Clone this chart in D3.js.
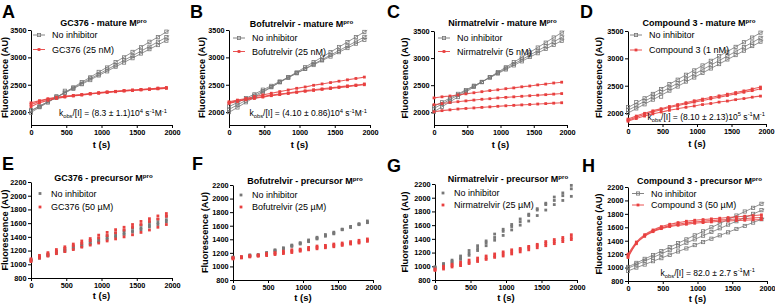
<!DOCTYPE html>
<html><head><meta charset="utf-8">
<script src="https://cdn.jsdelivr.net/npm/d3@7"></script>
<style>body{margin:0;background:#fff}svg{display:block;font-family:"Liberation Sans",Arial,sans-serif}</style>
</head><body><svg id="c" width="775" height="306"></svg>
<script>
// ---------------- DATA ----------------
const T = [0,120,240,360,480,600,720,840,960,1080,1200,1320,1440,1560,1680,1800,1920];
const FIT_T = [0,1960];
const xTicks = [0,500,1000,1500,2000];
const yTicksMature = [2000,2500,3000,3500];
const yTicksPrecursor = [800,1000,1200,1400,1600,1800,2000,2200];

const letters = ["A","B","C","D","E","F","G","H"];
const titles = ["GC376 - mature M","Bofutrelvir - mature M","Nirmatrelvir - mature M","Compound 3 - mature M",
                "GC376 - precursor M","Bofutrelvir - precursor M","Nirmatrelvir - precursor M","Compound 3 - precursor M"];
const inhibitorLabels = ["GC376 (25 nM)","Bofutrelvir (25 nM)","Nirmatrelvir (5 nM)","Compound 3 (1 nM)",
                         "GC376 (50 µM)","Bofutrelvir (25 µM)","Nirmatrelvir (25 µM)","Compound 3 (50 µM)"];
const controlLabel = "No inhibitor";

// Panel A
const A_grey = [
 [1990,2090,2175,2290,2360,2450,2550,2635,2735,2815,2915,3000,3100,3185,3285,3370,3470],
 [2025,2100,2195,2270,2350,2445,2520,2615,2690,2780,2855,2950,3025,3120,3195,3285,3370],
 [2035,2105,2200,2265,2390,2425,2510,2585,2670,2745,2830,2905,2985,3070,3150,3225,3305]];
const A_greyFit = [[1995,3495],[2020,3395],[2030,3335]];
const A_red = [
 [2170,2210,2245,2270,2290,2305,2320,2340,2355,2370,2380,2395,2405,2415,2425,2440,2450],
 [2140,2195,2235,2262,2285,2300,2318,2335,2350,2365,2378,2390,2400,2410,2420,2430,2440],
 [2100,2170,2215,2250,2275,2295,2312,2330,2345,2360,2372,2385,2395,2405,2415,2425,2435]];
// Panel B
const B_grey = [
 [2000,2085,2180,2275,2360,2455,2545,2640,2725,2820,2915,3010,3095,3190,3280,3370,3465],
 [2045,2135,2210,2300,2385,2460,2550,2625,2715,2790,2880,2955,3045,3120,3210,3290,3375],
 [2105,2175,2255,2325,2410,2480,2560,2635,2710,2790,2860,2945,3015,3095,3170,3250,3320]];
const B_greyFit = [[1995,3495],[2050,3400],[2100,3350]];
const B_red = [
 [2190,2220,2250,2285,2315,2345,2375,2405,2435,2460,2490,2515,2540,2565,2590,2615,2640],
 [2170,2205,2235,2260,2285,2310,2330,2350,2370,2390,2410,2425,2445,2460,2480,2495,2515],
 [2160,2195,2225,2250,2275,2300,2320,2340,2360,2380,2395,2415,2430,2450,2465,2485,2500]];
// Panel C
const C_grey = [
 [2010,2100,2195,2280,2375,2470,2555,2650,2740,2830,2925,3010,3105,3195,3285,3380,3470],
 [2065,2150,2235,2320,2395,2480,2560,2645,2725,2810,2890,2975,3055,3135,3220,3300,3385],
 [2110,2185,2260,2340,2410,2490,2560,2640,2715,2790,2865,2940,3020,3090,3170,3245,3320]];
const C_greyFit = [[2010,3500],[2070,3410],[2110,3345]];
const C_red = [
 [2265,2285,2300,2320,2340,2360,2380,2400,2415,2435,2450,2470,2485,2505,2520,2540,2555],
 [2140,2160,2180,2195,2210,2225,2240,2250,2265,2275,2285,2295,2305,2315,2325,2335,2345],
 [2010,2030,2045,2060,2070,2080,2090,2100,2110,2120,2128,2136,2144,2152,2160,2168,2176]];
// Panel D
const D_grey = [
 [2110,2200,2270,2350,2440,2530,2610,2700,2780,2870,2955,3040,3120,3210,3295,3380,3470],
 [2060,2140,2220,2300,2385,2460,2550,2625,2710,2795,2875,2960,3040,3125,3205,3290,3375],
 [2000,2085,2160,2245,2300,2410,2485,2575,2650,2735,2815,2895,2980,3060,3140,3225,3305]];
const D_greyFit = [[2100,3495],[2050,3400],[2000,3330]];
const D_red = [
 [1890,1945,1995,2040,2080,2120,2155,2190,2225,2255,2285,2315,2345,2375,2405,2440,2475],
 [1870,1925,1975,2020,2060,2100,2135,2170,2200,2230,2260,2290,2320,2350,2380,2410,2445],
 [1850,1900,1945,1985,2020,2050,2080,2105,2130,2155,2175,2200,2220,2245,2265,2290,2310]];
// Panel E
const E_grey = [
 [1070,1105,1145,1185,1225,1260,1300,1340,1375,1415,1455,1490,1530,1570,1610,1655,1700],
 [1060,1095,1130,1170,1205,1240,1275,1310,1345,1385,1420,1455,1490,1530,1570,1610,1650],
 [1050,1090,1125,1160,1190,1225,1260,1295,1330,1365,1400,1435,1470,1505,1545,1580,1620]];
const E_red = [
 [1080,1130,1170,1215,1255,1295,1340,1375,1425,1465,1505,1540,1580,1625,1665,1705,1740],
 [1060,1110,1150,1190,1230,1270,1305,1345,1385,1420,1460,1500,1540,1580,1625,1660,1700],
 [1040,1090,1120,1155,1185,1215,1250,1280,1310,1340,1370,1400,1430,1465,1500,1540,1580]];
// Panel F
const F_grey = [
 [1140,1140,1170,1175,1205,1245,1275,1315,1350,1390,1430,1470,1505,1550,1590,1630,1670],
 [1130,1135,1160,1165,1195,1235,1265,1305,1340,1375,1415,1455,1490,1545,1580,1620,1650],
 [1125,1130,1150,1160,1185,1225,1255,1295,1330,1365,1405,1445,1480,1540,1575,1615,1645]];
const F_red = [
 [1130,1145,1160,1170,1190,1205,1225,1245,1255,1280,1300,1310,1330,1345,1365,1385,1405],
 [1120,1135,1150,1160,1175,1190,1205,1225,1240,1260,1280,1290,1310,1325,1345,1360,1385],
 [1110,1125,1140,1150,1160,1175,1190,1205,1225,1245,1260,1275,1290,1310,1330,1345,1370]];
// Panel G
const G_grey = [
 [990,1040,1090,1150,1230,1300,1370,1470,1540,1610,1690,1760,1840,1920,2010,2070,2180],
 [990,1030,1070,1120,1190,1260,1340,1420,1510,1580,1650,1740,1820,1900,1960,2030,2130],
 [980,1010,1050,1100,1160,1230,1300,1380,1450,1530,1600,1660,1740,1820,1900,1960,2020]];
const G_red = [
 [960,1000,1030,1060,1090,1120,1150,1180,1210,1240,1260,1290,1320,1360,1390,1420,1460],
 [950,980,1010,1030,1060,1090,1120,1150,1180,1210,1240,1270,1300,1330,1360,1390,1420],
 [940,960,990,1010,1040,1070,1100,1130,1150,1180,1210,1240,1270,1300,1330,1360,1390]];
// Panel H
const H_grey = [
 [1010,1070,1130,1185,1245,1305,1365,1420,1480,1540,1600,1655,1715,1775,1835,1890,1950],
 [990,1045,1100,1150,1205,1260,1315,1370,1420,1475,1530,1585,1640,1690,1745,1800,1855],
 [950,1000,1045,1095,1140,1190,1240,1285,1335,1380,1430,1480,1525,1575,1620,1670,1720]];
const H_greyFit = [[1010,1970],[990,1870],[950,1735]];
const H_red = [
 [1200,1380,1490,1560,1610,1645,1670,1690,1705,1715,1725,1735,1745,1755,1765,1775,1785],
 [1170,1365,1475,1545,1590,1625,1645,1665,1680,1690,1700,1710,1715,1725,1730,1740,1745],
 [1150,1355,1465,1535,1580,1610,1630,1645,1660,1670,1680,1690,1695,1700,1705,1710,1715]];

// rate-constant annotations (text parts: [string, "sub"|"sup"|undefined])
const kobsA = [["k"],["obs","sub"],["/[I] = (8.3 ± 1.1)10"],["4","sup"],[" s"],["-1","sup"],["M"],["-1","sup"]];
const kobsB = [["k"],["obs","sub"],["/[I] = (4.10 ± 0.86)10"],["4","sup"],[" s"],["-1","sup"],["M"],["-1","sup"]];
const kobsD = [["k"],["obs","sub"],["/[I] = (8.10 ± 2.13)10"],["5","sup"],[" s"],["-1","sup"],["M"],["-1","sup"]];
const kobsH = [["k"],["obs","sub"],["/[I] = 82.0 ± 2.7 s"],["-1","sup"],["M"],["-1","sup"]];

// ---------------- LAYOUT ----------------
const GREY = "#777777", RED = "#e8403f", FONT = "'Liberation Sans', Arial, sans-serif";
const panels = [
 {grey:A_grey, fit:A_greyFit, red:A_red, redLine:true, kobs:kobsA, xr:[31,172], yr:[125,30], dom:[1765,3500], yt:yTicksMature,
  letter:[2,18], titleY:26, ylabX:5, leg:{x:33,y:[35,49.5],line:true}, kpos:[167,116]},
 {grey:B_grey, fit:B_greyFit, red:B_red, redLine:true, kobs:kobsB, xr:[229,370], yr:[125,30], dom:[1765,3500], yt:yTicksMature,
  letter:[190,18], titleY:27, ylabX:202, leg:{x:233,y:[38,51.5],line:true}, kpos:[367,116]},
 {grey:C_grey, fit:C_greyFit, red:C_red, redLine:true, kobs:null, xr:[434,567], yr:[125,31], dom:[1765,3500], yt:yTicksMature,
  letter:[387,18], titleY:26, ylabX:405, leg:{x:438,y:[38,51.5],line:true}},
 {grey:D_grey, fit:D_greyFit, red:D_red, redLine:true, kobs:kobsD, xr:[628,766], yr:[124,31], dom:[1800,3500], yt:yTicksMature,
  letter:[580,18], titleY:26, ylabX:599, leg:{x:630,y:[35,50],line:true}, kpos:[765,119.5]},
 {grey:E_grey, fit:null, red:E_red, redLine:false, kobs:null, xr:[31,172], yr:[278,182], dom:[800,2200], yt:yTicksPrecursor,
  letter:[2,170], titleY:181, ylabX:5, leg:{x:35,y:[193.5,207],line:false}},
 {grey:F_grey, fit:null, red:F_red, redLine:false, kobs:null, xr:[233,373], yr:[280,185], dom:[800,2200], yt:yTicksPrecursor,
  letter:[192,170], titleY:184, ylabX:205, leg:{x:236,y:[195,207],line:false}},
 {grey:G_grey, fit:null, red:G_red, redLine:false, kobs:null, xr:[435,577], yr:[280,184], dom:[800,2200], yt:yTicksPrecursor,
  letter:[387,172], titleY:182, ylabX:405, leg:{x:438,y:[193,205],line:false}},
 {grey:H_grey, fit:H_greyFit, red:H_red, redLine:true, kobs:kobsH, xr:[628,767], yr:[281,187], dom:[800,2200], yt:yTicksPrecursor,
  letter:[582,172], titleY:184, ylabX:599, leg:{x:632,y:[193.5,205],line:true}, kpos:[755,275.5]}
];

const svg = d3.select("#c");

function rich(sel, parts, size){
  let shift = 0;
  parts.forEach(([t,s]) => {
    const target = s === "sup" ? -size*0.38 : s === "sub" ? size*0.28 : 0;
    const ts = sel.append("tspan").text(t).attr("dy", (target - shift).toFixed(2));
    if (s) ts.attr("font-size", (size*0.68).toFixed(2));
    shift = target;
  });
}

function marker(g, cx, cy, kind, open){
  if (open){
    g.append("rect").attr("x",cx-1.6).attr("y",cy-1.6).attr("width",3.2).attr("height",3.2)
      .attr("fill","none").attr("stroke",GREY).attr("stroke-width",0.8);
  } else {
    const s = 2.8;
    g.append("rect").attr("x",cx-s/2).attr("y",cy-s/2).attr("width",s).attr("height",s)
      .attr("fill", kind==="greyDot" ? GREY : RED);
  }
}

panels.forEach((p,i) => {
  const g = svg.append("g");
  const x = d3.scaleLinear().domain([0,2000]).range(p.xr);
  const y = d3.scaleLinear().domain(p.dom).range(p.yr);

  // axes
  const ax = g.append("g").attr("transform",`translate(0,${p.yr[0]})`)
    .call(d3.axisBottom(x).tickValues(xTicks).tickSize(3).tickSizeOuter(0).tickPadding(2).tickFormat(d3.format("d")));
  const ay = g.append("g").attr("transform",`translate(${p.xr[0]},0)`)
    .call(d3.axisLeft(y).tickValues(p.yt).tickSize(3).tickSizeOuter(0).tickPadding(1.5).tickFormat(d3.format("d")));
  [ax,ay].forEach(a => {
    a.select(".domain").attr("stroke","#000").attr("stroke-width",1);
    a.selectAll(".tick line").attr("stroke","#000").attr("stroke-width",1);
    a.selectAll(".tick text").attr("font-family",FONT).attr("font-size",7.3).attr("font-weight","bold").attr("fill","#000");
  });

  const isPre = i >= 4;
  const mid = (p.xr[0]+p.xr[1])/2;
  // axis titles
  g.append("text").attr("x",mid).attr("y",p.yr[0]+ (isPre?21:23)).attr("text-anchor","middle")
    .attr("font-family",FONT).attr("font-size",9.5).attr("font-weight","bold").text("t (s)");
  g.append("text").attr("transform",`translate(${p.ylabX+3.3},${(p.yr[0]+p.yr[1])/2}) rotate(-90)`)
    .attr("text-anchor","middle").attr("font-family",FONT).attr("font-size",9.2).attr("font-weight","bold")
    .text("Fluorescence (AU)");
  // panel letter
  g.append("text").attr("x",p.letter[0]).attr("y",p.letter[1]).attr("font-family",FONT)
    .attr("font-size",18).attr("font-weight","bold").text(letters[i]);
  // title
  const tt = g.append("text").attr("x",mid+2).attr("y",p.titleY).attr("text-anchor","middle")
    .attr("font-family",FONT).attr("font-size",9).attr("font-weight","bold");
  rich(tt, [[titles[i]],["pro","sup"]], 9);

  // fits
  const lineFit = d3.line().x(d=>x(d[0])).y(d=>y(d[1]));
  if (p.fit) p.fit.forEach(f => {
    g.append("path").attr("d", lineFit(FIT_T.map((t,k)=>[t,f[k]])))
      .attr("fill","none").attr("stroke",GREY).attr("stroke-width",0.8);
  });
  if (p.redLine) p.red.forEach(r => {
    g.append("path").attr("d", d3.line().curve(d3.curveMonotoneX).x(d=>x(d[0])).y(d=>y(d[1]))(T.map((t,k)=>[t,r[k]])))
      .attr("fill","none").attr("stroke",RED).attr("stroke-width",1.1).attr("stroke-opacity",0.85);
  });

  // points
  p.grey.forEach(s => s.forEach((v,k) => marker(g, x(T[k]), y(v), "greyDot", !!p.fit)));
  p.red.forEach(s => s.forEach((v,k) => marker(g, x(T[k]), y(v), "red", false)));

  // legend
  const L = p.leg;
  [controlLabel, inhibitorLabels[i]].forEach((lab,k) => {
    const ly = L.y[k];
    if (L.line){
      g.append("line").attr("x1",L.x).attr("x2",L.x+12).attr("y1",ly).attr("y2",ly)
        .attr("stroke",k===0?GREY:RED).attr("stroke-width",0.9);
      marker(g, L.x+6, ly, k===0?"greyDot":"red", k===0);
      g.append("text").attr("x",L.x+19).attr("y",ly+3).attr("font-family",FONT).attr("font-size",9).text(lab);
    } else {
      marker(g, L.x+5, ly, k===0?"greyDot":"red", false);
      g.append("text").attr("x",L.x+16).attr("y",ly+3).attr("font-family",FONT).attr("font-size",9).text(lab);
    }
  });

  // kobs annotation
  if (p.kobs){
    const kt = g.append("text").attr("x",p.kpos[0]).attr("y",p.kpos[1]).attr("text-anchor","end")
      .attr("font-family",FONT).attr("font-size",8.5);
    rich(kt, p.kobs, 8.5);
  }
});
</script></body></html>
